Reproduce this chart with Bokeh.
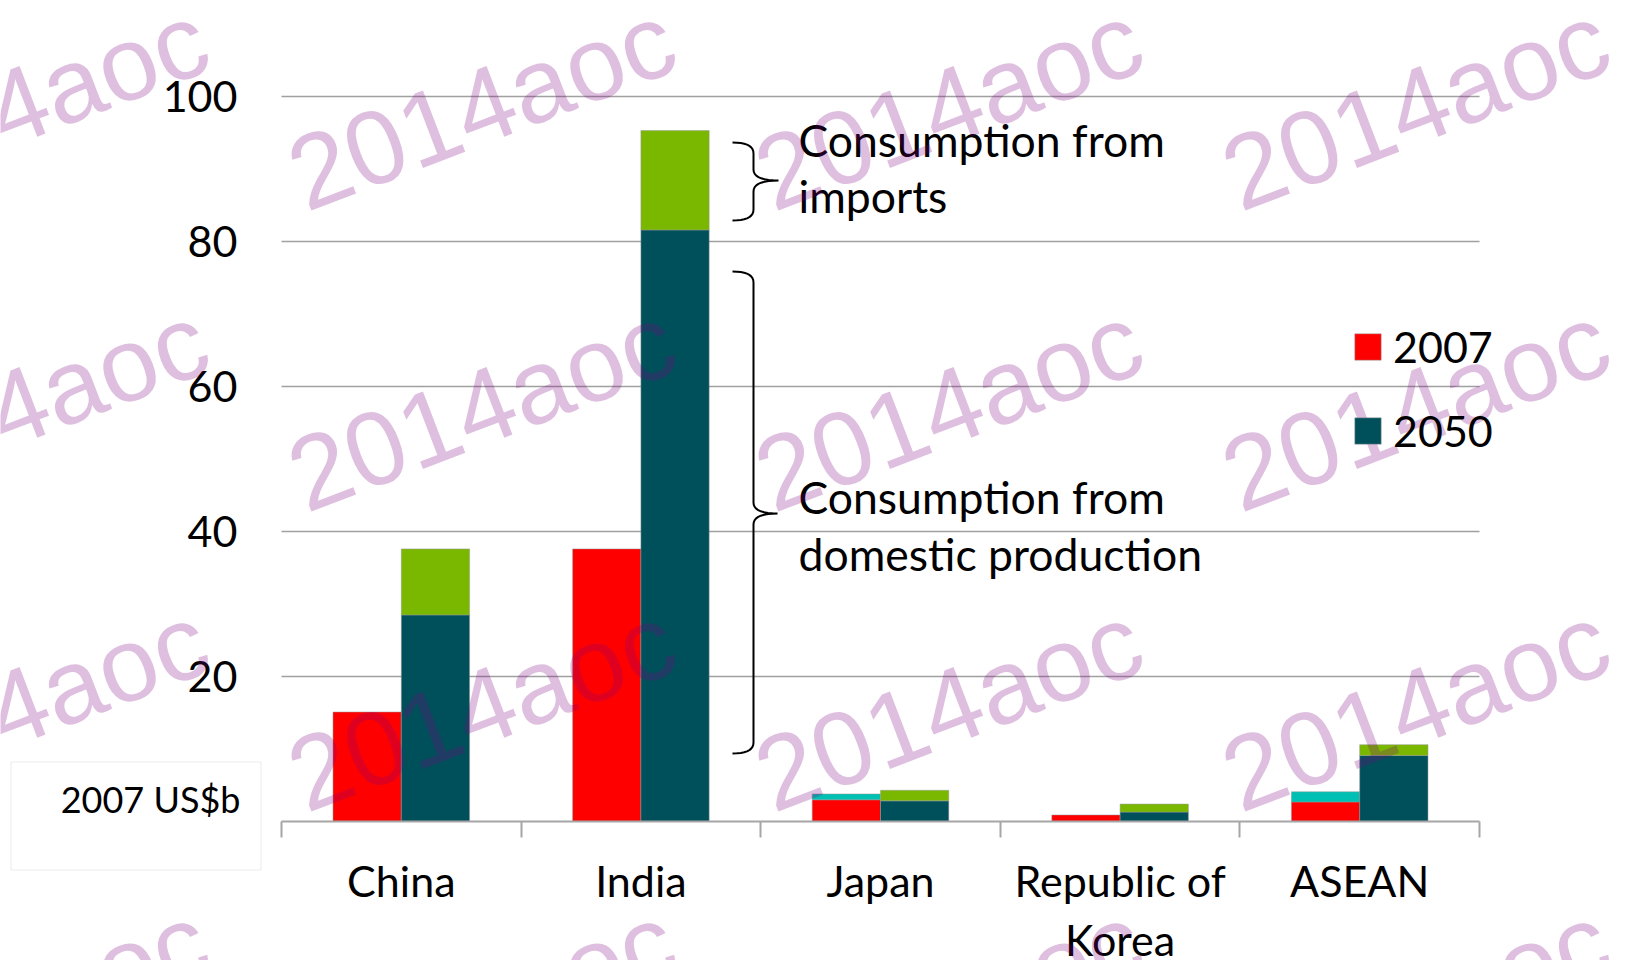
import numpy as np
from bokeh.plotting import figure
from bokeh.models import (ColumnDataSource, Range1d, FixedTicker, Label, Legend,
                          LegendItem, BoxAnnotation)
from bokeh.embed import file_html
from bokeh.resources import INLINE

# ---------------- data ----------------
categories = ["China", "India", "Japan", "Republic of\nKorea", "ASEAN"]
domestic_2007 = [15.1, 37.6, 3.0, 0.9, 2.7]
imports_2007 = [0.0, 0.0, 0.8, 0.0, 1.4]
domestic_2050 = [28.5, 81.6, 2.85, 1.3, 9.1]
imports_2050 = [9.1, 13.7, 1.45, 1.1, 1.5]
series_labels = ["2007", "2050"]
y_ticks = [20, 40, 60, 80, 100]
unit_label = "2007 US$b"
note_imports = ["Consumption from", "imports"]
note_domestic = ["Consumption from", "domestic production"]
watermark_text = "2014aoc"

# ---------------- layout / style ----------------
W, H = 1627, 960
FL, FT, FR, FB = 281, 96, 1479, 821          # data area in canvas pixels
N = len(categories)
YMAX = 100
FONT = "Lato"
RED, CYAN, TEAL, GREEN = "#FF0000", "#00BFB3", "#00505C", "#7AB800"
GRID = "#A0A0A0"
AXIS = "#A6A6A6"
BAR_W = 0.285
OFF = 0.1425


def dx(px):
    return (px - FL) / (FR - FL) * N


def dy(py):
    return (FB - py) / (FB - FT) * YMAX


p = figure(width=W, height=H, x_range=Range1d(dx(0), dx(W)),
           y_range=Range1d(dy(H), dy(0)),
           output_backend="svg", toolbar_location=None,
           min_border=0, min_border_left=0, min_border_right=0,
           min_border_top=0, min_border_bottom=0,
           outline_line_color=None, background_fill_color="white",
           border_fill_color="white")
p.xgrid.visible = False
p.ygrid.visible = False

# gridlines (through the data scales)
p.segment(x0=[0] * len(y_ticks), x1=[N] * len(y_ticks), y0=y_ticks, y1=y_ticks,
          line_color=GRID, line_width=1.5)

# bars
centers = np.arange(N) + 0.5
x07 = centers - OFF
x50 = centers + OFF
d07 = np.array(domestic_2007)
i07 = np.array(imports_2007)
d50 = np.array(domestic_2050)
i50 = np.array(imports_2050)

src_d07 = ColumnDataSource(dict(x=x07, bottom=np.zeros(N), top=d07))
m = i07 > 0
src_i07 = ColumnDataSource(dict(x=x07[m], bottom=d07[m], top=(d07 + i07)[m]))
src_d50 = ColumnDataSource(dict(x=x50, bottom=np.zeros(N), top=d50))
src_i50 = ColumnDataSource(dict(x=x50, bottom=d50, top=d50 + i50))

bar_line = dict(line_color="#9A9A9A", line_alpha=0.5, line_width=1)
r07 = p.vbar(x="x", bottom="bottom", top="top", width=BAR_W, source=src_d07,
             fill_color=RED, **bar_line)
p.vbar(x="x", bottom="bottom", top="top", width=BAR_W, source=src_i07,
       fill_color=CYAN, **bar_line)
r50 = p.vbar(x="x", bottom="bottom", top="top", width=BAR_W, source=src_d50,
             fill_color=TEAL, **bar_line)
p.vbar(x="x", bottom="bottom", top="top", width=BAR_W, source=src_i50,
       fill_color=GREEN, **bar_line)

# axes (fixed inside the canvas-wide frame)
xa = p.xaxis[0]
xa.fixed_location = 0
xa.bounds = (0, N)
xa.ticker = FixedTicker(ticks=list(centers), minor_ticks=list(range(N + 1)))
xa.major_label_overrides = {float(c): lab for c, lab in zip(centers, categories)}
xa.major_tick_out = 0
xa.major_tick_in = 0
xa.minor_tick_out = 16
xa.minor_tick_in = 0
xa.minor_tick_line_color = AXIS
xa.minor_tick_line_width = 2
xa.axis_line_color = AXIS
xa.axis_line_width = 2
xa.major_label_text_font = FONT
xa.major_label_text_font_size = "43px"
xa.major_label_text_color = "black"
xa.major_label_text_line_height = 1.16
xa.major_label_standoff = 17

ya = p.yaxis[0]
ya.fixed_location = 0
ya.bounds = (0, YMAX)
ya.ticker = FixedTicker(ticks=y_ticks)
ya.axis_line_color = None
ya.major_tick_out = 0
ya.major_tick_in = 0
ya.minor_tick_line_color = None
ya.major_label_text_font = FONT
ya.major_label_text_font_size = "43px"
ya.major_label_text_color = "black"
ya.major_label_standoff = 44

# legend
legend = Legend(items=[LegendItem(label=series_labels[0], renderers=[r07]),
                       LegendItem(label=series_labels[1], renderers=[r50])],
                location=(1351, H - 456),
                glyph_width=33, glyph_height=33, label_standoff=9,
                label_text_font=FONT, label_text_font_size="43px",
                label_text_color="black", spacing=33, padding=0, margin=0,
                border_line_color=None, background_fill_alpha=0)
p.add_layout(legend)


# braces
def brace_path(x_end, x_spine, x_tip, y_top, y_mid, y_bot, r=11, n=10):
    t = np.linspace(0, 1, n)

    def quad(p0, c, p1):
        xs = (1 - t) ** 2 * p0[0] + 2 * (1 - t) * t * c[0] + t ** 2 * p1[0]
        ys = (1 - t) ** 2 * p0[1] + 2 * (1 - t) * t * c[1] + t ** 2 * p1[1]
        return list(zip(xs, ys))
    pts = []
    pts += quad((x_end, y_top), (x_spine, y_top), (x_spine, y_top + r))
    pts += quad((x_spine, y_mid - r), (x_spine, y_mid), (x_tip, y_mid))
    pts += quad((x_tip, y_mid), (x_spine, y_mid), (x_spine, y_mid + r))
    pts += quad((x_spine, y_bot - r), (x_spine, y_bot), (x_end, y_bot))
    return [dx(a) for a, b in pts], [dy(b) for a, b in pts]


for spec in [(732, 753, 778, 142, 180, 220), (732, 753, 777, 271, 513, 753)]:
    bx, by = brace_path(*spec)
    p.line(bx, by, line_color="black", line_width=2)

# annotation texts
for txt, base in zip(note_imports, [138.5, 194.5]):
    p.add_layout(Label(x=dx(798), y=dy(base), text=txt, text_font=FONT,
                       text_font_size="44.5px", text_color="black",
                       text_baseline="alphabetic", text_align="left"))
for txt, base in zip(note_domestic, [495.5, 552.5]):
    p.add_layout(Label(x=dx(798), y=dy(base), text=txt, text_font=FONT,
                       text_font_size="44.5px", text_color="black",
                       text_baseline="alphabetic", text_align="left"))

# unit box
p.add_layout(BoxAnnotation(left=dx(10.5), right=dx(260.5), top=dy(761.5),
                           bottom=dy(869.5), fill_alpha=0, line_color="#BDBDBD",
                           line_width=1))
p.add_layout(Label(x=dx(240), y=dy(798), text=unit_label, text_font=FONT,
                   text_font_size="36px", text_color="black",
                   text_baseline="alphabetic", text_align="right"))

# watermark
for wx in [-174, 293, 760, 1227]:
    for wy in [178, 479, 779, 1079]:
        p.add_layout(Label(x=dx(wx), y=dy(wy), text=watermark_text,
                           text_font="Liberation Sans", text_font_size="105px",
                           text_color="#800080", text_alpha=0.25,
                           angle=np.deg2rad(21), text_align="left",
                           text_baseline="alphabetic"))

open("out.html", "w").write(file_html(p, INLINE))
